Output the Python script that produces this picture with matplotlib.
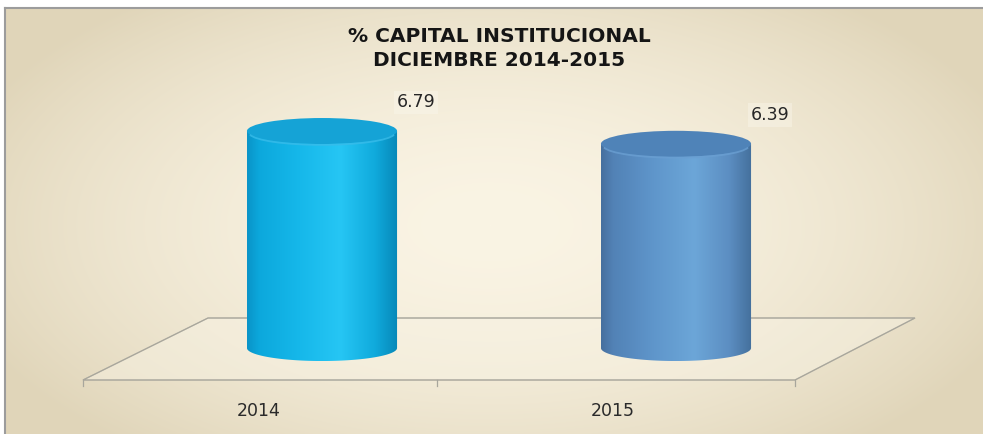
import matplotlib.pyplot as plt
import numpy as np
from matplotlib.patches import Polygon, Ellipse, Arc, PathPatch
from matplotlib.path import Path
from matplotlib.colors import to_rgb

# Data
categories = ['2014', '2015']
values = [6.79, 6.39]
title = '% CAPITAL INSTITUCIONAL\nDICIEMBRE 2014-2015'

# Cylinder shading: (stops, colours across the body), top colour, rim colour
body_stops = [0, 0.08, 0.35, 0.62, 0.85, 1.0]
body_colors = [
    ['#0a94c8', '#0ca8dc', '#16b8ea', '#26c6f4', '#10aadc', '#0788b8'],
    ['#46709e', '#5282b6', '#5f96cb', '#6ca6d8', '#5c8ec2', '#44709c'],
]
top_colors = ['#15a3d6', '#4f83b8']
rim_colors = ['#38bcea', '#6a9fd2']

W, H = 983, 434
fig = plt.figure(figsize=(W / 100, H / 100), dpi=100)

# Background axes in pixel coordinates
bg = fig.add_axes([0, 0, 1, 1])
bg.set_xlim(0, W)
bg.set_ylim(H, 0)
bg.axis('off')

# Radial beige gradient inside the frame
yy, xx = np.mgrid[8:H, 5:W]
d = np.sqrt(((xx - 490) / 560.0) ** 2 + ((yy - 225) / 290.0) ** 2)
t = np.clip(d, 0, 1) ** 1.8
c0 = np.array(to_rgb('#faf4e4'))
c1 = np.array(to_rgb('#e0d5b9'))
img = c0[None, None, :] * (1 - t[..., None]) + c1[None, None, :] * t[..., None]
bg.imshow(img, extent=(5, W, H, 8), aspect='auto', zorder=0)
bg.plot([5, 5], [H, 8], color='#9c9c9c', lw=1.5, zorder=1)
bg.plot([5, W], [8, 8], color='#9c9c9c', lw=1.5, zorder=1)

# Floor
floor = Polygon([(83, 380), (208, 318), (915, 318), (795, 380)], closed=True,
                fc='#f8f3e4', ec='#a8a69c', lw=0.9, alpha=0.45, zorder=2)
bg.add_patch(floor)
bg.add_patch(Polygon([(83, 380), (208, 318), (915, 318), (795, 380)], closed=True,
                     fc='none', ec='#a8a69c', lw=0.9, zorder=2))
for xt in [83, 437, 795]:
    bg.plot([xt, xt], [380, 386], color='#a8a69c', lw=0.9, zorder=2)

# Title
fig.text(499 / W, 1 - 48.5 / H, title, ha='center', va='center', fontsize=14.5,
         fontweight='bold', color='#151515', linespacing=1.35)

# Bar axes: x = category index, y = value
px_per_unit = 31.96
ax = fig.add_axes([145 / W, (H - 367.2) / H, 708 / W, 8.6 * px_per_unit / H])
ax.set_xlim(-0.5, 1.5)
ax.set_ylim(-0.6, 8)
ax.axis('off')
ax.patch.set_alpha(0)

w = 0.212
ry = 13 / px_per_unit
theta = np.linspace(np.pi, 2 * np.pi, 80)

for i, (cat, v) in enumerate(zip(categories, values)):
    # body outline: bottom half ellipse + straight sides
    verts = [(i + w * np.cos(a), ry * np.sin(a)) for a in theta]
    verts += [(i + w, v), (i - w, v), verts[0]]
    codes = [Path.MOVETO] + [Path.LINETO] * (len(verts) - 2) + [Path.CLOSEPOLY]
    body = PathPatch(Path(verts, codes), fc='none', ec='none', transform=ax.transData)
    ax.add_patch(body)

    xs = np.linspace(0, 1, 256)
    cols = np.array([to_rgb(c) for c in body_colors[i]])
    grad = np.stack([np.interp(xs, body_stops, cols[:, k]) for k in range(3)], axis=-1)
    im = ax.imshow(grad[None, :, :], extent=(i - w, i + w, -ry, v), aspect='auto',
                   zorder=3, interpolation='bilinear')
    im.set_clip_path(body)

    ax.add_patch(Ellipse((i, v), 2 * w, 2 * ry, fc=top_colors[i], ec='none', zorder=4))
    ax.add_patch(Arc((i, v - 0.06), 2 * w * 0.97, 2 * ry * 0.92, theta1=195, theta2=345,
                     color=rim_colors[i], lw=1.3, alpha=0.8, zorder=5))

    ax.text(i + 0.265, v + 0.9, f'{v:.2f}', ha='center', va='center', fontsize=12.5,
            color='#262626', zorder=6,
            bbox=dict(boxstyle='square,pad=0.15', fc='#fbf8ee', ec='none', alpha=0.4))
    ax.text(i - 0.18, -1.97, cat, ha='center', va='center', fontsize=12.5,
            color='#2a2a2a', clip_on=False)

fig.savefig('out.png', dpi=100)
